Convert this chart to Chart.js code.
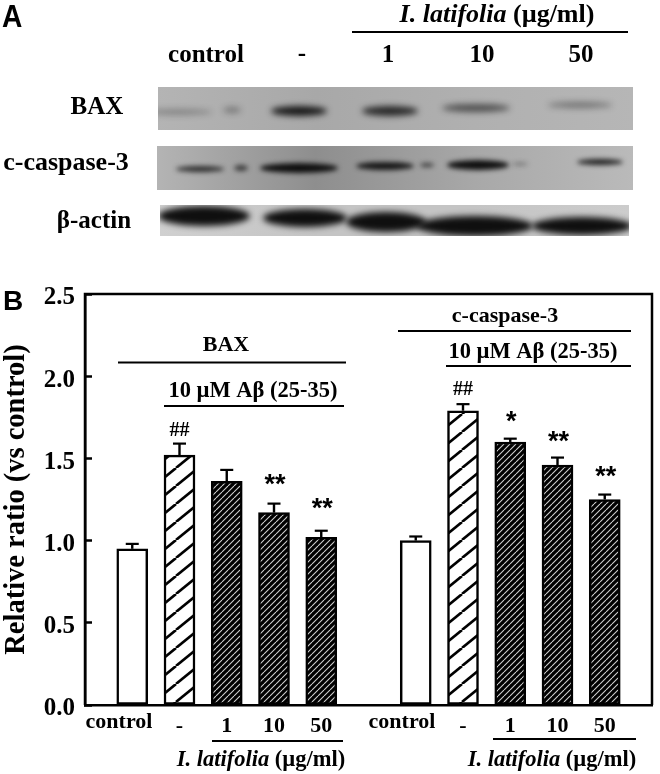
<!DOCTYPE html>
<html>
<head>
<meta charset="utf-8">
<style>
  html, body { margin: 0; padding: 0; background: #fff; }
  canvas { display: block; }
</style>
<script src="https://cdn.jsdelivr.net/npm/chart.js@4"></script>
</head>
<body>
<canvas id="grafico" width="660" height="774"></canvas>
<script>
// Dados
const categories = ['', 'control', '-', '1', '10', '50', '', 'control', '-', '1', '10', '50', ''];
const barValues = [null, 0.95, 1.52, 1.36, 1.17, 1.02, null, 1.00, 1.79, 1.60, 1.46, 1.25, null];
const barErrors = [null, 0.03, 0.07, 0.07, 0.055, 0.04, null, 0.025, 0.04, 0.02, 0.045, 0.03, null];
const barMarks = [null, null, '##', null, '**', '**', null, null, '##', '*', '**', '**', null];
const barMarkLevels = [null, null, 1.667, null, 1.369, 1.223, null, null, 1.916, 1.752, 1.63, 1.423, null];
const barKinds = [null, 'plain', 'wide', 'dense', 'dense', 'dense', null, 'plain', 'wide', 'dense', 'dense', 'dense', null];
const yTickLabels = ['0.0', '0.5', '1.0', '1.5', '2.0', '2.5'];

const SERIF = '"Liberation Serif", "Times New Roman", serif';
const SANS = '"Liberation Sans", Arial, sans-serif';

// Hachura diagonal em ladrilho
function hachura(w, h, espessura, fundo, traco) {
    const c = document.createElement('canvas');
    c.width = w;
    c.height = h;
    const g = c.getContext('2d');
    g.fillStyle = fundo;
    g.fillRect(0, 0, w, h);
    g.strokeStyle = traco;
    g.lineWidth = espessura;
    for (const dx of [-w, 0, w]) {
        g.beginPath();
        g.moveTo(dx, h);
        g.lineTo(dx + w, 0);
        g.stroke();
    }
    return c;
}

const ctx0 = document.createElement('canvas').getContext('2d');
const fills = {
    plain: '#ffffff',
    wide: ctx0.createPattern(hachura(22, 18, 2.6, '#ffffff', '#000000'), 'repeat'),
    dense: ctx0.createPattern(hachura(6, 6, 1.1, '#000000', '#cfcfcf'), 'repeat')
};

// Western blot (painel A)
const blots = [
    { x: 158, y: 87, w: 475, h: 43, stops: ['#b4b4b4', '#a8a8a8', '#b0b0b0', '#b6b6b6'], blur: 3, bands: [
        [177, 112, 35, 3, 0.28], [232, 110, 9, 3, 0.35], [299, 111, 28, 5, 0.95], [390, 111, 28, 5, 0.85],
        [476, 108, 34, 4, 0.6], [580, 105, 32, 3, 0.4]] },
    { x: 157, y: 146, w: 476, h: 44, stops: ['#b4b4b4', '#8e8e8e', '#a8a8a8', '#bababa'], blur: 2.5, bands: [
        [200, 169, 24, 3, 0.8], [241, 168, 7, 3, 0.7], [299, 168, 39, 5, 1], [385, 166, 29, 4, 0.95],
        [427, 165, 7, 2, 0.7], [478, 165, 31, 5, 1], [520, 164, 8, 1.5, 0.4], [600, 162, 23, 3, 0.9]] },
    { x: 160, y: 205, w: 469, h: 31, stops: ['#d0d0d0', '#c4c4c4', '#c4c4c4', '#cccccc'], blur: 3, bands: [
        [204, 216, 46, 10, 1], [305, 218, 42, 9, 1], [386, 222, 40, 10, 1], [475, 226, 58, 10, 1], [582, 226, 50, 9, 1]] }
];

function texto(c, str, x, y, font, align) {
    c.font = font;
    c.textAlign = align || 'center';
    c.textBaseline = 'middle';
    c.fillStyle = '#000';
    c.fillText(str, x, y);
}

function linha(c, x1, x2, y, w) {
    c.strokeStyle = '#000';
    c.lineWidth = w || 2;
    c.beginPath();
    c.moveTo(x1, y);
    c.lineTo(x2, y);
    c.stroke();
}

// Texto "I. latifolia (µg/ml)" com parte em itálico
function latifolia(c, cx, y, size) {
    const it = 'italic bold ' + size + 'px ' + SERIF;
    const bd = 'bold ' + size + 'px ' + SERIF;
    c.font = it;
    const a = 'I. latifolia';
    const wa = c.measureText(a).width;
    c.font = bd;
    const b = ' (µg/ml)';
    const wb = c.measureText(b).width;
    const x0 = cx - (wa + wb) / 2;
    texto(c, a, x0, y, it, 'left');
    texto(c, b, x0 + wa, y, bd, 'left');
}

const painelA = {
    id: 'painelA',
    beforeDraw(chart) {
        const c = chart.ctx;
        c.save();
        for (const b of blots) {
            c.save();
            c.beginPath();
            c.rect(b.x, b.y, b.w, b.h);
            c.clip();
            const g = c.createLinearGradient(b.x, 0, b.x + b.w, 0);
            b.stops.forEach((s, i) => g.addColorStop(i / (b.stops.length - 1), s));
            c.fillStyle = g;
            c.fillRect(b.x, b.y, b.w, b.h);
            c.filter = 'blur(' + b.blur + 'px)';
            for (const [x, y, rx, ry, a] of b.bands) {
                c.fillStyle = 'rgba(15,15,15,' + a + ')';
                c.beginPath();
                c.ellipse(x, y, rx, ry, 0, 0, Math.PI * 2);
                c.fill();
            }
            c.restore();
        }

        c.save();
        c.translate(2, 27);
        c.scale(0.88, 1);
        c.font = 'bold 32px ' + SANS;
        c.textAlign = 'left';
        c.textBaseline = 'alphabetic';
        c.fillStyle = '#000';
        c.fillText('A', 0, 0);
        c.restore();

        latifolia(c, 497, 15, 26);
        linha(c, 352, 628, 32, 1.8);
        const f = 'bold 25px ' + SERIF;
        texto(c, 'control', 206, 56, f);
        texto(c, '-', 302, 55, f);
        texto(c, '1', 388, 56, f);
        texto(c, '10', 482, 56, f);
        texto(c, '50', 581, 56, f);
        texto(c, 'BAX', 97, 108, f);
        texto(c, 'c-caspase-3', 66, 163, 'bold 26px ' + SERIF);
        texto(c, 'β-actin', 94, 222, f);
        c.restore();
    }
};

const anotacoes = {
    id: 'anotacoes',
    afterDatasetsDraw(chart) {
        const c = chart.ctx;
        const sx = chart.scales.x;
        const sy = chart.scales.y;
        c.save();

        // moldura superior e direita
        c.strokeStyle = '#000';
        c.lineWidth = 2.5;
        c.beginPath();
        c.moveTo(sx.left, sy.bottom);
        c.lineTo(sx.left, sy.top);
        c.lineTo(sx.right, sy.top);
        c.lineTo(sx.right, sy.bottom);
        c.stroke();

        // barras de erro
        barValues.forEach((v, i) => {
            if (v === null) return;
            const x = sx.getPixelForValue(i);
            const y0 = sy.getPixelForValue(v);
            const y1 = sy.getPixelForValue(v + barErrors[i]);
            c.lineWidth = 2.4;
            c.beginPath();
            c.moveTo(x, y0);
            c.lineTo(x, y1);
            c.stroke();
            linha(c, x - 6.5, x + 6.5, y1, 2.2);
        });

        // marcas de significância
        barMarks.forEach((m, i) => {
            if (!m) return;
            const x = sx.getPixelForValue(i);
            const y = sy.getPixelForValue(barMarkLevels[i]);
            if (m === '##') {
                texto(c, m, x, y, 'bold 20px ' + SERIF);
            } else {
                texto(c, m, x + 1, y + 6, 'bold 27px ' + SANS);
            }
        });

        // rótulos de grupo
        const f22 = 'bold 22px ' + SERIF;
        const f25 = 'bold 22.5px ' + SERIF;
        texto(c, 'BAX', 226, 345, f22);
        linha(c, 118, 346, 362.5, 2.2);
        texto(c, '10 µM Aβ (25-35)', 253, 391, f25);
        linha(c, 164, 344, 406, 2.2);
        texto(c, 'c-caspase-3', 505, 316, f22);
        linha(c, 398, 631, 331, 2.2);
        texto(c, '10 µM Aβ (25-35)', 533, 352, f25);
        linha(c, 446, 631, 366, 2.2);

        // rótulos abaixo do eixo
        texto(c, 'control', 119, 722, f22);
        texto(c, 'control', 402, 722, f22);
        linha(c, 212, 343, 741, 2);
        linha(c, 493, 636, 739, 2);
        latifolia(c, 261, 760, 22.5);
        latifolia(c, 552, 760, 22.5);

        // letra B
        c.font = 'bold 28px ' + SANS;
        c.textAlign = 'left';
        c.textBaseline = 'alphabetic';
        c.fillStyle = '#000';
        c.fillText('B', 3, 310);
        c.restore();
    }
};

new Chart(document.getElementById('grafico'), {
    type: 'bar',
    data: {
        labels: categories,
        datasets: [{
            data: barValues,
            backgroundColor: barKinds.map(k => (k ? fills[k] : 'transparent')),
            borderColor: '#000000',
            borderWidth: 2.5,
            borderSkipped: false,
            barThickness: 31
        }]
    },
    options: {
        responsive: false,
        animation: false,
        devicePixelRatio: 1,
        layout: { padding: { top: 294, right: 5, left: 0, bottom: 0 } },
        plugins: { legend: { display: false }, tooltip: { enabled: false }, title: { display: false } },
        scales: {
            x: {
                type: 'category',
                offset: false,
                grid: { display: false, drawTicks: false },
                border: { color: '#000', width: 2.5 },
                ticks: {
                    color: '#000',
                    autoSkip: false,
                    maxRotation: 0,
                    padding: 8,
                    font: { family: SERIF, weight: 'bold', size: 22 },
                    callback: function(v, i) { return categories[i] === 'control' ? '' : categories[i]; }
                },
                afterFit(scale) { scale.height = 69; }
            },
            y: {
                min: 0,
                max: 2.5,
                grid: { drawOnChartArea: false, tickLength: -7, tickWidth: 2.5, tickColor: '#000' },
                border: { color: '#000', width: 2.5 },
                ticks: {
                    color: '#000',
                    stepSize: 0.5,
                    padding: 17,
                    labelOffset: 4,
                    font: { family: SERIF, weight: 'bold', size: 25 },
                    callback: function(v, i) { return yTickLabels[i]; }
                },
                title: {
                    display: true,
                    text: 'Relative ratio (vs control)',
                    color: '#000',
                    padding: 0,
                    font: { family: SERIF, weight: 'bold', size: 28.5 }
                },
                afterFit(scale) { scale.width = 85; }
            }
        }
    },
    plugins: [painelA, anotacoes]
});
</script>
</body>
</html>
